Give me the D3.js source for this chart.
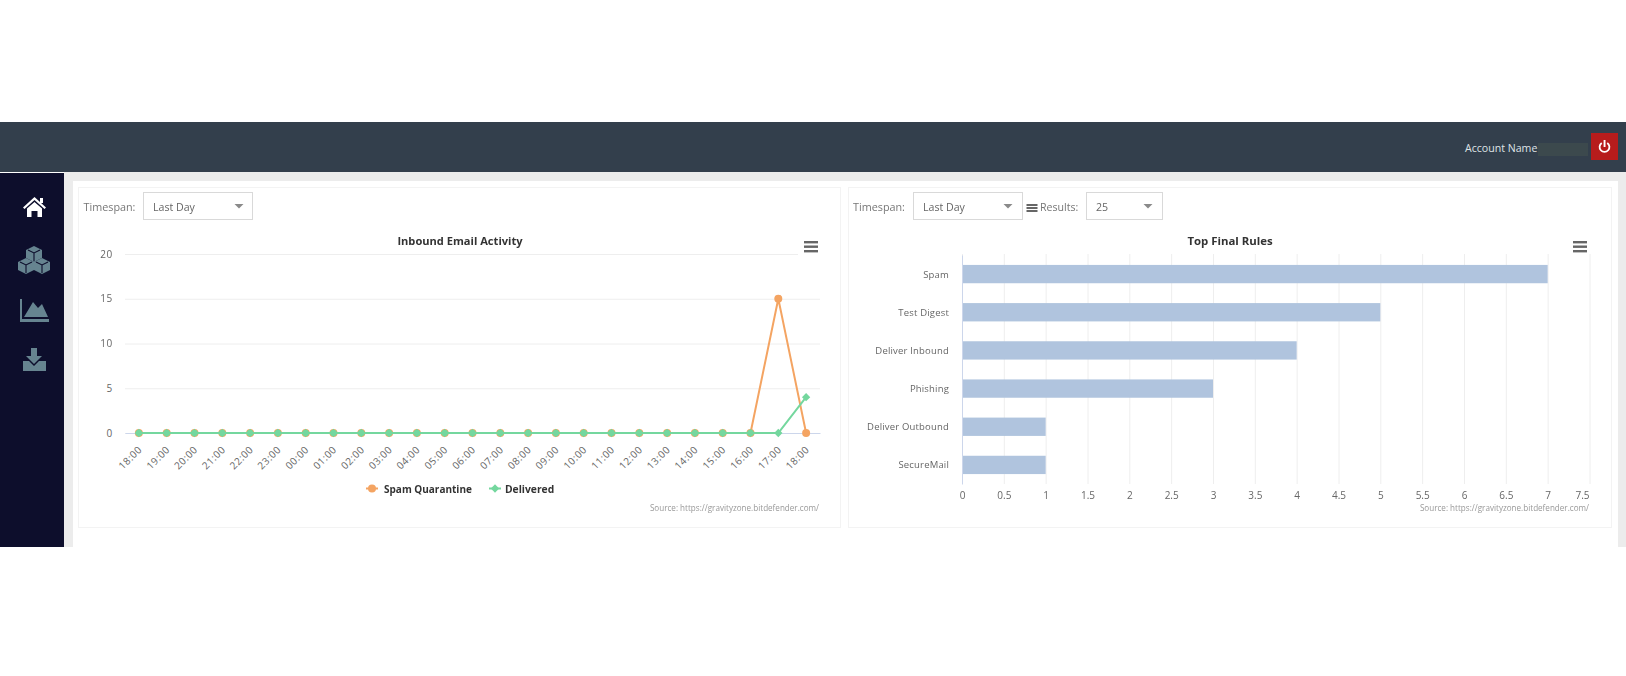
<!DOCTYPE html>
<html><head><meta charset="utf-8">
<script src="https://cdn.jsdelivr.net/npm/d3@7/dist/d3.min.js"></script>
<style>
html,body{margin:0;padding:0;background:#fff;overflow:hidden}
svg{display:block;font-family:"Open Sans",sans-serif;filter:blur(.45px)}
</style></head><body><div id="c"></div>
<script>
const hours=["18:00","19:00","20:00","21:00","22:00","23:00","00:00","01:00","02:00","03:00","04:00","05:00","06:00","07:00","08:00","09:00","10:00","11:00","12:00","13:00","14:00","15:00","16:00","17:00","18:00"];
const spamQuarantine=[0,0,0,0,0,0,0,0,0,0,0,0,0,0,0,0,0,0,0,0,0,0,0,15,0];
const delivered=[0,0,0,0,0,0,0,0,0,0,0,0,0,0,0,0,0,0,0,0,0,0,0,0,4];
const yTicks=[0,5,10,15,20];
const rules=["Spam","Test Digest","Deliver Inbound","Phishing","Deliver Outbound","SecureMail"];
const ruleCounts=[7,5,4,3,1,1];
const xTicks=[0,0.5,1,1.5,2,2.5,3,3.5,4,4.5,5,5.5,6,6.5,7,7.5];
const sourceText="Source: https://gravityzone.bitdefender.com/";

const svg=d3.select("#c").append("svg").attr("width",1626).attr("height",676);
const rect=(x,y,w,h,f,s)=>svg.append("rect").attr("x",x).attr("y",y).attr("width",w).attr("height",h).attr("fill",f).attr("stroke",s||"none");
const text=(x,y,t,o={})=>svg.append("text").attr("x",x).attr("y",y).attr("dy",".35em").text(t)
  .attr("font-size",o.size||11).attr("fill",o.fill||"#666").attr("text-anchor",o.anchor||"start").attr("font-weight",o.weight||400).attr("letter-spacing",o.ls||0);

// page chrome
rect(0,122,1626,50,"#333f4c");
rect(0,173,64,374,"#0d0e2c");
rect(64,172,1562,375,"#ececec");
rect(73,181,1545,366,"#fff");
rect(78.5,187.5,762,340,"#fff","#f3f3f3");
rect(848.5,187.5,763,340,"#fff","#f3f3f3");

// header right
text(1465,148,"Account Name",{fill:"#dfe3e6",size:10.6});
rect(1538,143,50,13,"#3c494d");
rect(1591,133,27,27,"#b71c1c");
svg.append("path").attr("d",d3.arc()({innerRadius:4,outerRadius:5.8,startAngle:0.6,endAngle:Math.PI*2-0.6})).attr("transform","translate(1604.5,147)").attr("fill","#fff");
rect(1603.6,140,1.9,7,"#fff");

// sidebar icons
const icon=(d,c)=>svg.append("path").attr("d",d).attr("fill",c);
icon("M34.5 197L46 207.5L44.5 209L34.5 200L24.5 209L23 207.5Z","#fff");
icon("M34.5 202L42 208.5V217H37.5V211H31.5V217H27V208.5Z","#fff");
rect(40,198,3,5,"#fff");
const cube=(x,y)=>{icon(`M${x} ${y-8}L${x+8} ${y-4}V${y+4}L${x} ${y+8}L${x-8} ${y+4}V${y-4}Z`,"#668490");
  svg.append("path").attr("d",`M${x-6} ${y-4}L${x} ${y-1}L${x+6} ${y-4}M${x} ${y-1}V${y+7}`).attr("fill","none").attr("stroke","#0d0e2c").attr("stroke-width",1.1);};
cube(34,254);cube(26,266);cube(42,266);
icon("M20 299H22V319H49V322H20Z","#668490");
icon("M24 317L33 302L38 308L42 304L48 317Z","#668490");
icon("M31 348H37V356H42L34 364L26 356H31Z","#668490");
icon("M23 361H29L34 366L39 361H46V371H23Z","#668490");

// dropdowns
function drop(x,w,t,ax){
  rect(x+.5,192.5,w,27,"#fff","#d9d9d9");
  text(x+10,207,t,{fill:"#666",size:10.6});
  svg.append("path").attr("d",`M-4.5 -2H4.5L0 2.5Z`).attr("transform",`translate(${ax},206)`).attr("fill","#8a8a8a");
}
text(83.5,207,"Timespan:",{size:10.8,fill:"#777"});
drop(143,109,"Last Day",239);
text(853,207,"Timespan:",{size:10.8,fill:"#777"});
drop(913,109,"Last Day",1008);
const burger=(x,y,w,g,h,c)=>[0,1,2].forEach(i=>rect(x,y+i*g,w,h,c));
burger(1026.5,204,11,3,2,"#666");
text(1040,207,"Results:",{size:10.6,fill:"#777"});
drop(1086,76,"25",1148);

// line chart
const x=d3.scalePoint().domain(d3.range(hours.length)).range([125,820]).padding(.5);
const y=d3.scaleLinear().domain([0,20]).range([433,254]);
const gy=svg.append("g").attr("transform","translate(125,0)")
  .call(d3.axisLeft(y).tickValues(yTicks).tickSize(-695).tickPadding(12));
gy.select(".domain").remove();
gy.selectAll("line").attr("stroke","#eeeeee");
gy.selectAll("text").attr("fill","#666").attr("font-size",10).attr("letter-spacing",".7px").attr("font-family","Open Sans");
const gx=svg.append("g").attr("transform","translate(0,433)")
  .call(d3.axisBottom(x).tickFormat(i=>hours[i]).tickSize(0).tickPadding(6));
gx.select(".domain").attr("stroke","#ccd6eb");
gx.selectAll("text").attr("fill","#666").attr("font-size",10).attr("letter-spacing",".5px").attr("font-family","Open Sans")
  .attr("text-anchor","end").attr("transform","translate(-6,8) rotate(-45)");
const line=d3.line().x((d,i)=>x(i)).y(d=>y(d));
const orange="#f4a462",green="#74d79e";
svg.append("path").attr("d",line(spamQuarantine)).attr("fill","none").attr("stroke",orange).attr("stroke-width",2);
svg.selectAll(".s").data(spamQuarantine).enter().append("circle").attr("cx",(d,i)=>x(i)).attr("cy",d=>y(d)).attr("r",4).attr("fill",orange);
svg.append("path").attr("d",line(delivered)).attr("fill","none").attr("stroke",green).attr("stroke-width",2);
const dia=d3.symbol(d3.symbolDiamond2,44)();
svg.selectAll(".d").data(delivered).enter().append("path").attr("d",dia).attr("transform",(d,i)=>`translate(${x(i)},${y(d)})`).attr("fill",green);
svg.selectAll(".d2").data(delivered.slice(0,23)).enter().append("circle").attr("cx",(d,i)=>x(i)).attr("cy",d=>y(d)).attr("r",3.3).attr("fill",green);

text(460,241,"Inbound Email Activity",{anchor:"middle",weight:700,fill:"#333",size:11.1});
rect(798,238,26,20,"#fff");
burger(804,241,14,4.5,2.4,"#666");
// legend
svg.append("path").attr("d","M366 488.5H378").attr("stroke",orange).attr("stroke-width",2);
svg.append("circle").attr("cx",372).attr("cy",488.5).attr("r",4).attr("fill",orange);
text(384,489,"Spam Quarantine",{weight:700,fill:"#333",size:10});
svg.append("path").attr("d","M489 488.5H501").attr("stroke",green).attr("stroke-width",2);
svg.append("path").attr("d",dia).attr("transform","translate(495,488.5)").attr("fill",green);
text(505,489,"Delivered",{weight:700,fill:"#333",size:10.3});
text(819,508,sourceText,{anchor:"end",size:8.1,fill:"#999"});

// bar chart
const bx=d3.scaleLinear().domain([0,7.5]).range([962,1589.5]);
const by=d3.scaleBand().domain(rules).range([255,484]).paddingInner(.52).paddingOuter(.26);
const gbx=svg.append("g").attr("transform","translate(0,484)")
  .call(d3.axisBottom(bx).tickValues(xTicks).tickFormat(d=>d).tickSize(-230).tickPadding(8));
gbx.select(".domain").remove();
gbx.selectAll("line").attr("stroke","#eeeeee");
gbx.selectAll("text").attr("fill","#666").attr("font-size",10).attr("font-family","Open Sans")
  .filter(d=>d===7.5).attr("dx",-7.5);
svg.selectAll(".b").data(rules).enter().append("rect").attr("x",bx(0)).attr("y",r=>by(r)).attr("height",by.bandwidth())
  .attr("width",(r,i)=>bx(ruleCounts[i])-bx(0)).attr("fill","#b0c4de");
const gby=svg.append("g").attr("transform","translate(962,0)")
  .call(d3.axisLeft(by).tickSize(0).tickPadding(13));
gby.select(".domain").attr("stroke","#ccd6eb");
gby.selectAll("text").attr("fill","#666").attr("font-size",9.5).attr("letter-spacing",".18px").attr("dy",".36em").attr("font-family","Open Sans");
text(1230,241,"Top Final Rules",{anchor:"middle",weight:700,fill:"#333",size:11.4});
burger(1573,241,14,4.5,2.4,"#666");
text(1589,508,sourceText,{anchor:"end",size:8.1,fill:"#999"});
</script></body></html>
